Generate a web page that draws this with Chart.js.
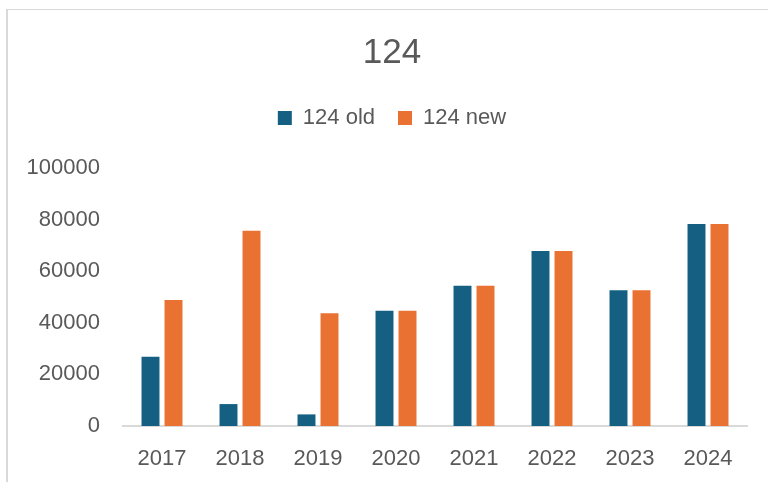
<!DOCTYPE html>
<html>
<head>
<meta charset="utf-8">
<script src="https://cdn.jsdelivr.net/npm/chart.js@4.4.1/dist/chart.umd.min.js"></script>
<style>
  html, body { margin: 0; padding: 0; background: #fff; overflow: hidden; width: 768px; height: 482px; }
  #frame { position: absolute; left: 6px; top: 9px; width: 900px; height: 600px; border: 1px solid #d9d9d9; border-left-width: 2px; }
  #chart { position: absolute; left: 0; top: 0; }
</style>
</head>
<body>
<div id="frame"></div>
<canvas id="chart" width="800" height="482"></canvas>
<script>
// Dados do gráfico
const anos = ['2017', '2018', '2019', '2020', '2021', '2022', '2023', '2024'];
const valoresAntigos = [26800, 8500, 4500, 44700, 54400, 67800, 52600, 78300];
const valoresNovos = [48800, 75700, 43700, 44700, 54400, 67800, 52600, 78300];
const tituloGrafico = '124';
const nomesSeries = ['124 old', '124 new'];
const eixoY = { min: 0, max: 100000, passo: 20000 };

const corTexto = '#595959';
Chart.defaults.font.family = "'Liberation Sans', Arial, sans-serif";
Chart.defaults.color = corTexto;

const ctx = document.getElementById('chart').getContext('2d');

new Chart(ctx, {
  type: 'bar',
  data: {
    labels: anos,
    datasets: [
      {
        label: nomesSeries[0],
        data: valoresAntigos,
        backgroundColor: '#156082',
        categoryPercentage: 0.59,
        barPercentage: 0.78
      },
      {
        label: nomesSeries[1],
        data: valoresNovos,
        backgroundColor: '#E97132',
        categoryPercentage: 0.59,
        barPercentage: 0.78
      }
    ]
  },
  options: {
    responsive: false,
    animation: false,
    devicePixelRatio: 1,
    layout: { padding: { top: 10, left: 10, right: 26, bottom: 10 } },
    plugins: {
      title: {
        display: true,
        text: tituloGrafico,
        color: corTexto,
        font: { size: 35, weight: 'normal' },
        padding: { top: 22, bottom: 10 }
      },
      // espaçador entre a legenda e a área do gráfico
      subtitle: {
        display: true,
        text: ' ',
        position: 'top',
        weight: 500,
        font: { size: 10, lineHeight: 1 },
        padding: { top: 0, bottom: 19 }
      },
      legend: {
        display: true,
        position: 'top',
        labels: {
          boxWidth: 14,
          boxHeight: 14,
          padding: 23,
          color: corTexto,
          font: { size: 22 }
        }
      },
      tooltip: { enabled: false }
    },
    scales: {
      x: {
        grid: { display: false, drawTicks: false },
        border: { display: true, color: '#d9d9d9', width: 2 },
        ticks: { color: corTexto, font: { size: 22 }, padding: 20 },
        afterFit: (scale) => { scale.height = 46; }
      },
      y: {
        min: eixoY.min,
        max: eixoY.max,
        grid: { display: false, drawTicks: false },
        border: { display: false },
        ticks: {
          stepSize: eixoY.passo,
          color: corTexto,
          font: { size: 22 },
          padding: 23,
          callback: (v) => String(v)
        },
        afterFit: (scale) => { scale.width = 113; }
      },
      // eixo vazio à direita, só para centralizar título e legenda como no original
      y2: {
        position: 'right',
        grid: { display: false, drawTicks: false },
        border: { display: false },
        ticks: { display: false },
        afterFit: (scale) => { scale.width = 27; }
      }
    }
  }
});
</script>
</body>
</html>
